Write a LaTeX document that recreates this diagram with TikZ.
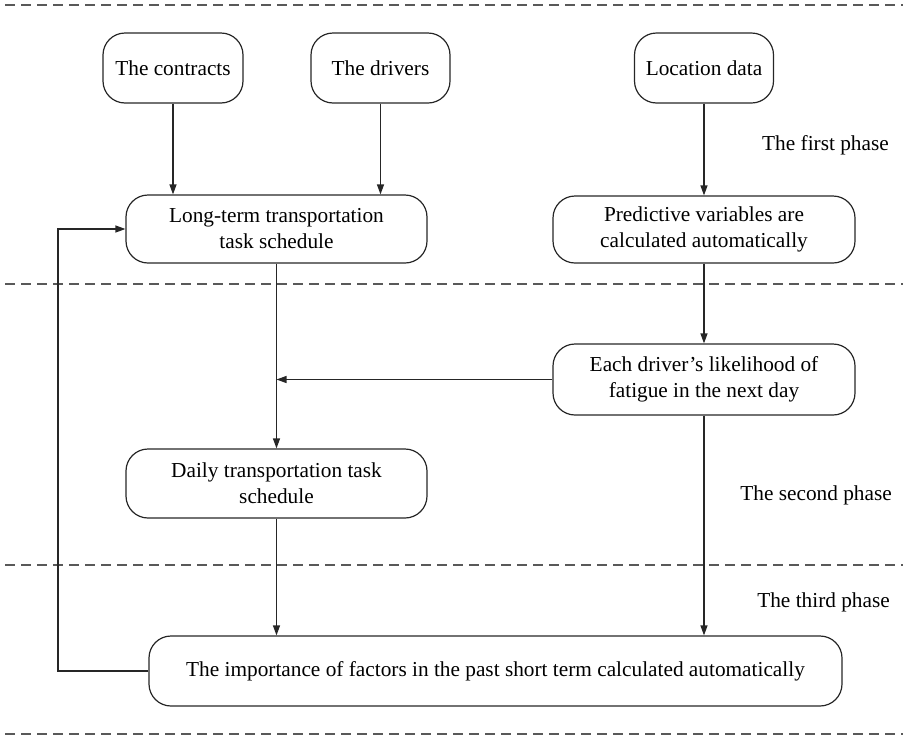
\documentclass[tikz,border=0pt]{standalone}
\usepackage{fontspec}
\setmainfont{Liberation Serif}
\usetikzlibrary{arrows.meta}
\begin{document}
\begin{tikzpicture}[x=1pt,y=-1pt,
  box/.style={draw=black!85, line width=1.2pt, rounded corners=22pt, align=center,
    font=\fontsize{21.3}{26}\selectfont, inner sep=0pt},
  arr/.style={draw=black!85, line width=1.2pt, -{Triangle[length=10pt,width=7pt]}},
  sep/.style={draw=black!65, line width=1.2pt, dash pattern=on 10pt off 6pt},
  lab/.style={font=\fontsize{21.3}{26}\selectfont, anchor=east, inner sep=0pt}]
\useasboundingbox (0,0) rectangle (903,737);
% separators
\draw[sep] (5,5) -- (903,5);
\draw[sep] (5,284) -- (903,284);
\draw[sep] (5,565) -- (903,565);
\draw[sep] (5,734) -- (903,734);
% boxes
\node[box, minimum width=140pt, minimum height=70pt] (c) at (173,68) {The contracts};
\node[box, minimum width=139pt, minimum height=70pt] (d) at (380.5,68) {The drivers};
\node[box, minimum width=139pt, minimum height=70pt] (l) at (704,68) {Location data};
\node[box, minimum width=301pt, minimum height=68pt] (lt) at (276.5,229) {Long-term transportation\\task schedule};
\node[box, minimum width=302pt, minimum height=67pt] (pv) at (704,229.5) {Predictive variables are\\calculated automatically};
\node[box, minimum width=302pt, minimum height=71pt] (ed) at (704,379.5) {Each driver’s likelihood of\\fatigue in the next day};
\node[box, minimum width=301pt, minimum height=69pt] (dt) at (276.5,483.5) {Daily transportation task\\schedule};
\node[box, minimum width=693pt, minimum height=70pt] (im) at (495.5,671) {The importance of factors in the past short term calculated automatically};
% labels
\node[lab] (p1) at (889,145) {The first phase};
\node[lab] (p2) at (892,495) {The second phase};
\node[lab] (p3) at (890,602) {The third phase};
% connectors
\coordinate (fb) at (58,0);
\draw[arr] (c.south) -- (c.south |- lt.north);
\draw[arr] (d.south) -- (d.south |- lt.north);
\draw[arr] (l.south) -- (pv.north);
\draw[arr] (pv.south) -- (ed.north);
\draw[arr] (lt.south) -- (dt.north);
\draw[arr] (ed.west) -- (lt.south |- ed.west);
\draw[arr] (dt.south) -- (dt.south |- im.north);
\draw[arr] (ed.south) -- (ed.south |- im.north);
\draw[arr] (im.west) -- (im.west -| fb) |- (lt.west);
\end{tikzpicture}
\end{document}
